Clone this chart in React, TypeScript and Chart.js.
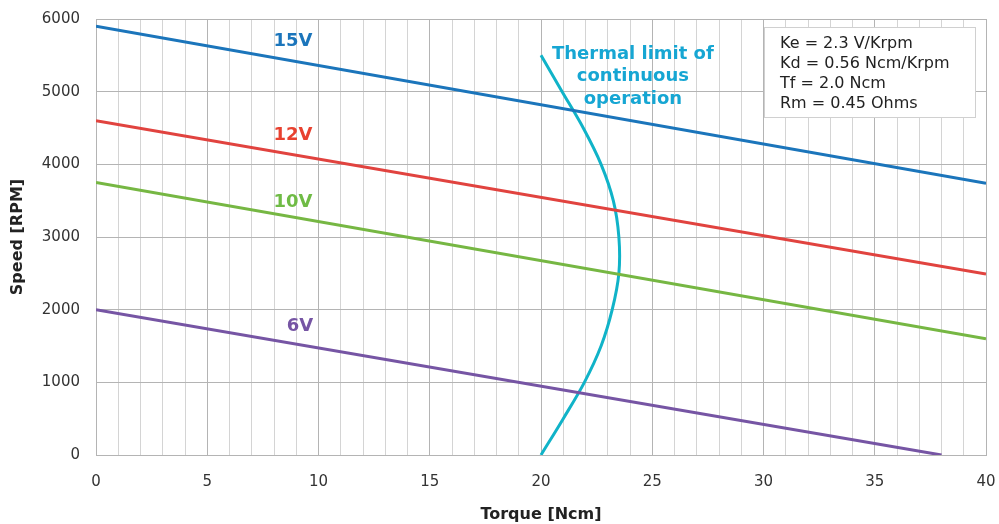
import React, { useEffect, useRef } from "react";
import { Chart, registerables } from "chart.js";
Chart.register(...registerables);

const torque15 = [0, 40];
const speed15 = [5900, 3740];
const torque12 = [0, 40];
const speed12 = [4600, 2490];
const torque10 = [0, 40];
const speed10 = [3750, 1600];
const torque6 = [0, 38];
const speed6 = [2000, 0];
const thermalTorque = [20, 21.0, 21.95, 22.7, 23.2, 23.5, 23.5, 23.25, 22.7, 21.9, 20.95, 20];
const thermalSpeed = [0, 500, 1000, 1500, 2000, 2500, 3000, 3500, 4000, 4500, 5000, 5500];
const xTicks = [0, 5, 10, 15, 20, 25, 30, 35, 40];
const yTicks = [0, 1000, 2000, 3000, 4000, 5000, 6000];
const paramLines = ["Ke = 2.3 V/Krpm", "Kd = 0.56 Ncm/Krpm", "Tf = 2.0 Ncm", "Rm = 0.45 Ohms"];
const lineLabels = [
  { text: "15V", x: 8.85, y: 5697, color: "#1b75bb" },
  { text: "12V", x: 8.85, y: 4403, color: "#e8412f" },
  { text: "10V", x: 8.85, y: 3481, color: "#6fbb45" },
  { text: "6V", x: 9.17, y: 1775, color: "#7655a4" },
];
const thermalLabel = ["Thermal limit of", "continuous", "operation"];

const pts = (xs: number[], ys: number[]) => xs.map((x, i) => ({ x, y: ys[i] }));

export default function App() {
  const ref = useRef<HTMLCanvasElement>(null);
  useEffect(() => {
    document.body.style.margin = "0";
    const font = "'DejaVu Sans', Verdana, sans-serif";
    const annot = {
      id: "annot",
      afterDatasetsDraw(chart: any) {
        const { ctx, scales, chartArea } = chart;
        const xs = scales.x, ys = scales.y;
        ctx.save();
        ctx.font = `bold 18px ${font}`;
        ctx.textAlign = "center";
        ctx.textBaseline = "middle";
        for (const l of lineLabels) {
          ctx.fillStyle = l.color;
          ctx.fillText(l.text, xs.getPixelForValue(l.x), ys.getPixelForValue(l.y));
        }
        ctx.fillStyle = "#16a6d3";
        thermalLabel.forEach((t, i) => {
          ctx.fillText(t, xs.getPixelForValue(24.13), ys.getPixelForValue(5518) + i * 22.5);
        });
        // params box
        const bx = chartArea.left + 668, by = chartArea.top + 8, bw = 211, bh = 90;
        ctx.fillStyle = "#ffffff";
        ctx.fillRect(bx, by, bw, bh);
        ctx.strokeStyle = "#d0d0d0";
        ctx.lineWidth = 1;
        ctx.strokeRect(bx + 0.5, by + 0.5, bw, bh);
        ctx.fillStyle = "#222";
        ctx.font = `16px ${font}`;
        ctx.textAlign = "left";
        paramLines.forEach((t, i) => ctx.fillText(t, bx + 16, by + 17 + i * 20));
        ctx.restore();
      },
    };
    const zeroPad = (s: any) => {
      s.paddingLeft = 0;
      s.paddingRight = 0;
      s.paddingTop = 0;
      s.paddingBottom = 0;
    };
    const chart = new Chart(ref.current!, {
      type: "scatter",
      data: {
        datasets: [
          { data: pts(torque15, speed15), borderColor: "#1b75bb" },
          { data: pts(torque12, speed12), borderColor: "#e1433f" },
          { data: pts(torque10, speed10), borderColor: "#76b743" },
          { data: pts(torque6, speed6), borderColor: "#7655a4" },
          { data: pts(thermalTorque, thermalSpeed), borderColor: "#10b3c8", tension: 0.35 },
        ].map((d) => ({ ...d, showLine: true, pointRadius: 0, borderWidth: 3, fill: false })),
      },
      plugins: [annot],
      options: {
        animation: false,
        responsive: false,
        layout: { padding: { top: 19, right: 13, left: 0, bottom: 0 } },
        plugins: { legend: { display: false }, tooltip: { enabled: false } },
        scales: {
          x: {
            type: "linear",
            min: 0,
            max: 40,
            afterBuildTicks: (s: any) => {
              s.ticks = Array.from({ length: 41 }, (_, i) => ({ value: i }));
            },
            ticks: {
              autoSkip: false,
              maxRotation: 0,
              padding: 18,
              color: "#333",
              font: { family: font, size: 15 },
              callback: (v: any) => (xTicks.includes(Number(v)) ? String(v) : ""),
            },
            grid: {
              drawTicks: false,
              color: (c: any) => (c.tick && c.tick.value % 5 === 0 ? "#b4b4b4" : "#d4d4d4"),
              lineWidth: 1,
            },
            border: { color: "#b4b4b4" },
            title: { display: true, text: "Torque [Ncm]", color: "#222", font: { family: font, size: 16, weight: "bold" }, padding: { top: 4, bottom: 0 } },
            afterFit: (s: any) => { s.height = 69; zeroPad(s); },
          },
          y: {
            type: "linear",
            min: 0,
            max: 6000,
            afterBuildTicks: (s: any) => {
              s.ticks = yTicks.map((v) => ({ value: v }));
            },
            ticks: {
              padding: 16,
              color: "#333",
              font: { family: font, size: 15 },
              callback: (v: any) => String(v),
            },
            grid: { drawTicks: false, color: "#b4b4b4", lineWidth: 1 },
            border: { color: "#b4b4b4" },
            title: { display: true, text: "Speed [RPM]", color: "#222", font: { family: font, size: 16, weight: "bold" }, padding: { top: 8, bottom: 2 } },
            afterFit: (s: any) => { s.width = 96; zeroPad(s); },
          },
        },
      },
    });
    return () => chart.destroy();
  }, []);
  return (
    <div style={{ position: "fixed", left: 0, top: 0, width: 999, height: 524, background: "#fff" }}>
      <canvas ref={ref} width={999} height={524} />
    </div>
  );
}
